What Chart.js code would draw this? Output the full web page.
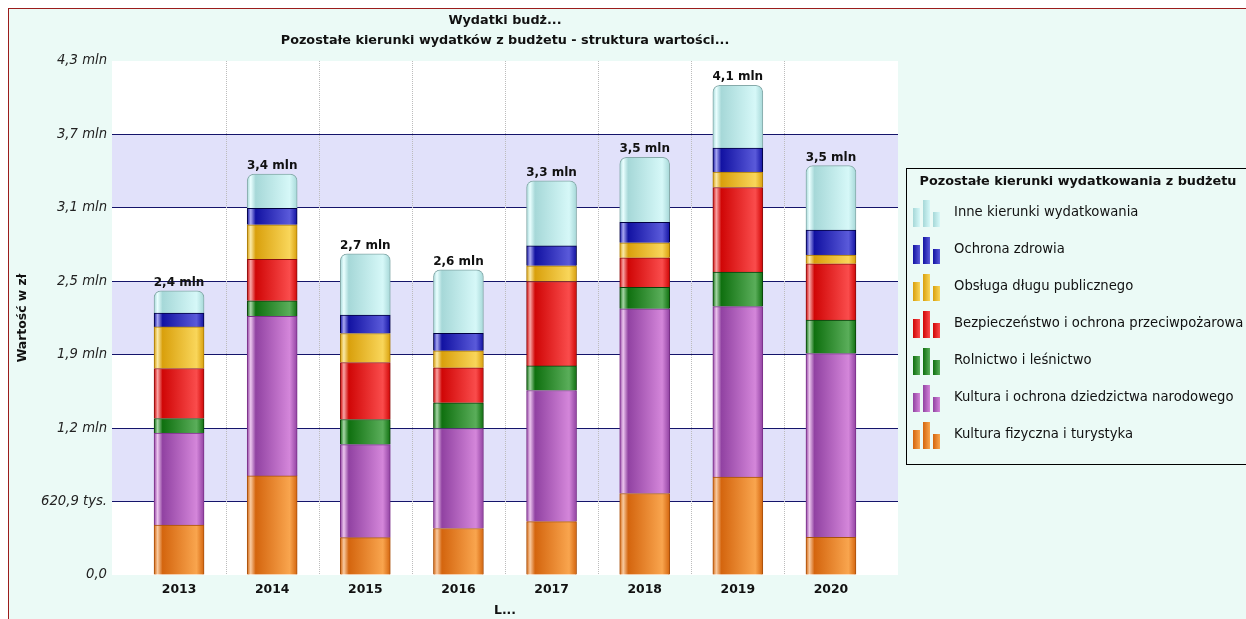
<!DOCTYPE html>
<html lang="pl">
<head>
<meta charset="utf-8">
<title>Wydatki budżetu</title>
<script src="https://cdn.jsdelivr.net/npm/chart.js@4.4.1/dist/chart.umd.min.js"></script>
<style>
  html, body { margin: 0; padding: 0; background: #fff; }
  #wrap { position: relative; width: 1246px; height: 619px; }
</style>
</head>
<body>
<div id="wrap"><canvas id="chart" width="1246" height="619"></canvas></div>
<script>
// values in mln zł
const years = ['2013', '2014', '2015', '2016', '2017', '2018', '2019', '2020']
const kulturaFizyczna = [0.423, 0.838, 0.316, 0.393, 0.452, 0.689, 0.827, 0.319]
const kultura = [0.778, 1.349, 0.787, 0.846, 1.108, 1.562, 1.443, 1.553]
const rolnictwo = [0.122, 0.132, 0.212, 0.217, 0.208, 0.181, 0.291, 0.283]
const bezpieczenstwo = [0.423, 0.350, 0.482, 0.296, 0.714, 0.250, 0.716, 0.476]
const obslugaDlugu = [0.352, 0.293, 0.245, 0.144, 0.132, 0.127, 0.130, 0.074]
const ochronaZdrowia = [0.116, 0.139, 0.155, 0.147, 0.169, 0.173, 0.203, 0.212]
const inne = [0.189, 0.290, 0.519, 0.538, 0.550, 0.550, 0.530, 0.544]

const yTickValues = [0, 0.6209, 1.2418, 1.8627, 2.4836, 3.1045, 3.7254, 4.3463]
const yTickLabels = ['0,0', '620,9 tys.', '1,2 mln', '1,9 mln', '2,5 mln', '3,1 mln', '3,7 mln', '4,3 mln']

const FONT = "'DejaVu Sans', Verdana, sans-serif"
const BAR_W = 50

// stacked bottom to top
const series = [
  { label: 'Kultura fizyczna i turystyka', data: kulturaFizyczna,
    dark: '#d4650e', light: '#f9a54e', shine: '#f8caa0', edge: '#a8500c' },
  { label: 'Kultura i ochrona dziedzictwa narodowego', data: kultura,
    dark: '#9142a2', light: '#d486da', shine: '#ecc6ee', edge: '#7a3088' },
  { label: 'Rolnictwo i leśnictwo', data: rolnictwo,
    dark: '#0f700f', light: '#5aae5a', shine: '#a6d6a6', edge: '#0a400a' },
  { label: 'Bezpieczeństwo i ochrona przeciwpożarowa', data: bezpieczenstwo,
    dark: '#d00606', light: '#fa4c4c', shine: '#f8a4a4', edge: '#8a1010' },
  { label: 'Obsługa długu publicznego', data: obslugaDlugu,
    dark: '#d9a00c', light: '#f9d65a', shine: '#faeaa8', edge: '#a87a08' },
  { label: 'Ochrona zdrowia', data: ochronaZdrowia,
    dark: '#1212a2', light: '#5a5ada', shine: '#a8a8f2', edge: '#000040' },
  { label: 'Inne kierunki wydatkowania', data: inne,
    dark: '#a6d8d8', light: '#d6f8f8', shine: '#eaffff', edge: '#86aaaa' }
]

function barFill(s) {
  return ctx => {
    if (ctx.type !== 'data') return s.light
    const xs = ctx.chart.scales.x
    const cx = xs ? xs.getPixelForValue(ctx.dataIndex) : NaN
    if (!isFinite(cx)) return s.light
    const g = ctx.chart.ctx.createLinearGradient(cx - BAR_W / 2, 0, cx + BAR_W / 2, 0)
    g.addColorStop(0, s.dark)
    g.addColorStop(0.07, s.shine)
    g.addColorStop(0.17, s.dark)
    g.addColorStop(0.85, s.light)
    g.addColorStop(1, s.dark)
    return g
  }
}

const datasets = series.map((s, k) => ({
  label: s.label,
  data: s.data.map((v, i) => ({ x: i, y: v })),
  backgroundColor: barFill(s),
  borderColor: s.edge,
  borderWidth: 1,
  borderRadius: k === series.length - 1 ? { topLeft: 7, topRight: 7, bottomLeft: 0, bottomRight: 0 } : 0,
  borderSkipped: 'start',
  barThickness: BAR_W
}))

const backdrop = {
  id: 'backdrop',
  beforeDraw(chart) {
    const { ctx, chartArea: a, width, height } = chart
    const y = chart.scales.y
    ctx.save()
    ctx.fillStyle = '#ffffff'
    ctx.fillRect(0, 0, width, height)
    ctx.fillStyle = '#ebfaf6'
    ctx.fillRect(9, 9, width, height)
    ctx.fillStyle = '#9b1c1c'
    ctx.fillRect(8, 8, width, 1)
    ctx.fillRect(8, 8, 1, height)
    ctx.fillStyle = '#ffffff'
    ctx.fillRect(a.left, a.top, a.width, a.height)
    ctx.fillStyle = '#e1e1fa'
    for (let i = 1; i < yTickValues.length - 1; i += 2) {
      const t = y.getPixelForValue(yTickValues[i + 1])
      const b = y.getPixelForValue(yTickValues[i])
      ctx.fillRect(a.left, t, a.width, b - t)
    }
    ctx.restore()
  },
  beforeDatasetsDraw(chart) {
    // dotted separators between years
    const { ctx, chartArea: a } = chart
    const x = chart.scales.x
    ctx.save()
    ctx.strokeStyle = '#bcbcbc'
    ctx.lineWidth = 1
    ctx.setLineDash([1, 1])
    for (let i = 0; i < years.length - 1; i++) {
      const px = Math.round(x.getPixelForValue(i + 0.5)) + 0.5
      ctx.beginPath()
      ctx.moveTo(px, a.top)
      ctx.lineTo(px, a.bottom)
      ctx.stroke()
    }
    ctx.restore()
  }
}

const totals = {
  id: 'totals',
  afterDatasetsDraw(chart) {
    const { ctx } = chart
    const x = chart.scales.x
    const y = chart.scales.y
    ctx.save()
    ctx.font = `bold 12px ${FONT}`
    ctx.fillStyle = '#111'
    ctx.textAlign = 'center'
    ctx.textBaseline = 'alphabetic'
    years.forEach((_, i) => {
      const sum = series.reduce((acc, s) => acc + s.data[i], 0)
      const label = sum.toFixed(1).replace('.', ',') + ' mln'
      ctx.fillText(label, x.getPixelForValue(i), y.getPixelForValue(sum) - 5)
    })
    ctx.restore()
  }
}

const sideLegend = {
  id: 'sideLegend',
  afterDraw(chart) {
    const { ctx, chartArea: a } = chart
    const left = a.right + 8
    const top = a.top + 107
    ctx.save()
    ctx.strokeStyle = '#000'
    ctx.lineWidth = 1
    ctx.strokeRect(left + 0.5, top + 0.5, 400, 296)
    ctx.fillStyle = '#111'
    ctx.font = `bold 12.8px ${FONT}`
    ctx.textAlign = 'center'
    ctx.textBaseline = 'middle'
    ctx.fillText('Pozostałe kierunki wydatkowania z budżetu', left + 172, top + 14)
    ctx.font = `13.2px ${FONT}`
    ctx.textAlign = 'left'
    const items = series.slice().reverse()
    items.forEach((s, k) => {
      const cy = top + 45 + 37 * k
      const bars = [[left + 7, 19], [left + 17, 27], [left + 27, 15]]
      bars.forEach(([bx, h]) => {
        const g = ctx.createLinearGradient(bx, 0, bx + 7, 0)
        g.addColorStop(0, s.dark)
        g.addColorStop(1, s.light)
        ctx.fillStyle = g
        ctx.fillRect(bx, cy + 14 - h, 7, h)
      })
      ctx.fillStyle = '#111'
      ctx.fillText(s.label, left + 48, cy)
    })
    ctx.restore()
  }
}

Chart.defaults.font.family = FONT

new Chart(document.getElementById('chart'), {
  type: 'bar',
  data: { datasets },
  plugins: [backdrop, totals, sideLegend],
  options: {
    responsive: false,
    animation: false,
    layout: { padding: { top: 9, left: 9, right: 348, bottom: 0 } },
    plugins: {
      legend: { display: false },
      tooltip: { enabled: false },
      title: {
        display: true,
        fullSize: false,
        text: ['Wydatki budż...', 'Pozostałe kierunki wydatków z budżetu - struktura wartości...'],
        color: '#111',
        font: { size: 12.8, weight: 'bold', lineHeight: 20 / 12.8 },
        padding: { top: 2, bottom: 10 }
      }
    },
    scales: {
      x: {
        type: 'linear',
        offset: false,
        stacked: true,
        min: -0.72,
        max: 7.72,
        afterBuildTicks: axis => { axis.ticks = years.map((_, i) => ({ value: i })) },
        afterFit: axis => { axis.height = 44 },
        grid: { display: false, drawTicks: false, offset: false },
        border: { display: false },
        ticks: {
          autoSkip: false,
          maxRotation: 0,
          padding: 7,
          color: '#111',
          font: { size: 12.4, weight: 'bold' },
          callback: v => years[v]
        },
        title: {
          display: true,
          text: 'L...',
          color: '#111',
          font: { size: 12.4, weight: 'bold' },
          padding: { top: 0, bottom: 1 }
        }
      },
      y: {
        stacked: true,
        min: 0,
        max: yTickValues[yTickValues.length - 1],
        afterBuildTicks: axis => { axis.ticks = yTickValues.map(v => ({ value: v })) },
        afterFit: axis => { axis.width = 103 },
        grid: {
          drawTicks: false,
          lineWidth: 1,
          color: c => (c.index === 0 || c.index === yTickValues.length - 1) ? 'rgba(0,0,0,0)' : '#14146a'
        },
        border: { display: false },
        ticks: {
          padding: 5,
          color: '#222',
          font: { size: 13.2, style: 'italic' },
          callback: (v, i) => yTickLabels[i]
        },
        title: {
          display: true,
          text: 'Wartość w zł',
          color: '#111',
          font: { size: 12.4, weight: 'bold' },
          padding: { top: 6, bottom: 0 }
        }
      }
    }
  }
})
</script>
</body>
</html>
